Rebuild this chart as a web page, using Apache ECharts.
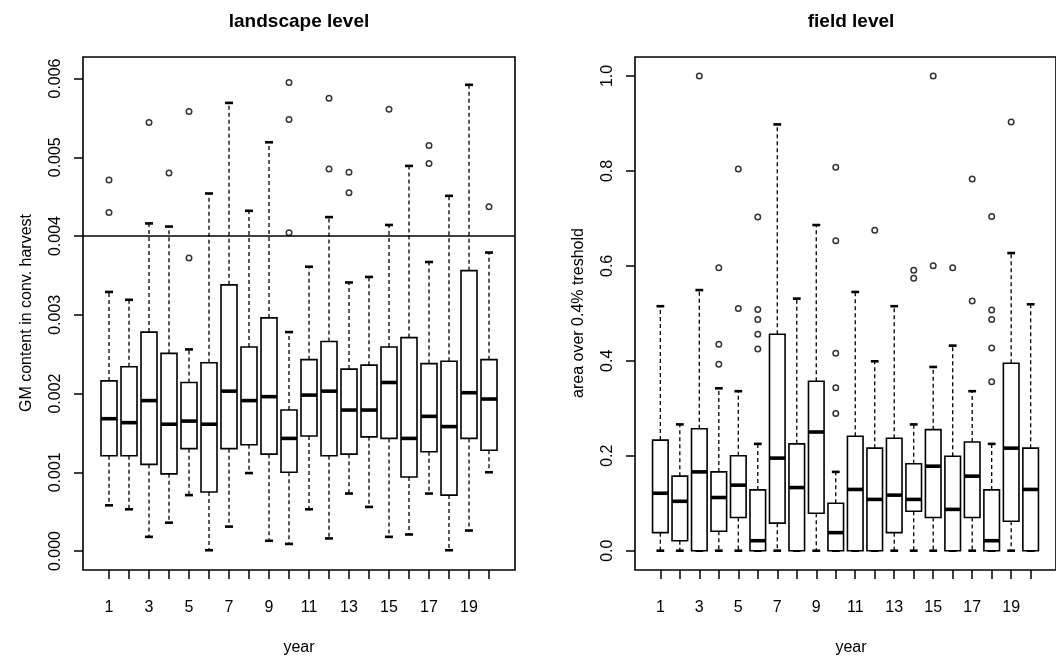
<!DOCTYPE html>
<html>
<head>
<meta charset="utf-8">
<script src="https://cdn.jsdelivr.net/npm/echarts@6/dist/echarts.min.js"></script>
<style>html,body{margin:0;padding:0;background:#fff}#c{width:1056px;height:662px}</style>
</head>
<body>
<div id="c"></div>
<script>
// ---- data ----
const years = [1,2,3,4,5,6,7,8,9,10,11,12,13,14,15,16,17,18,19,20];
const xTickLabels = [1,3,5,7,9,11,13,15,17,19];
const landTicks = [0, 0.001, 0.002, 0.003, 0.004, 0.005, 0.006];
const fieldTicks = [0, 0.2, 0.4, 0.6, 0.8, 1.0];
const landThreshold = 0.004;

const landMin = [0.00058,0.00053,0.00018,0.00036,0.00071,0.00001,0.00031,0.00099,0.00013,0.00009,0.00053,0.00016,0.00073,0.00056,0.00018,0.00021,0.00073,0.00001,0.00026,0.00100];
const landQ1  = [0.00121,0.00121,0.00110,0.00098,0.00130,0.00075,0.00130,0.00135,0.00123,0.00100,0.00146,0.00121,0.00123,0.00145,0.00143,0.00094,0.00126,0.00071,0.00143,0.00128];
const landMed = [0.00168,0.00163,0.00191,0.00161,0.00165,0.00161,0.00203,0.00191,0.00196,0.00143,0.00198,0.00203,0.00179,0.00179,0.00214,0.00143,0.00171,0.00158,0.00201,0.00193];
const landQ3  = [0.00216,0.00234,0.00278,0.00251,0.00214,0.00239,0.00338,0.00259,0.00296,0.00179,0.00243,0.00266,0.00231,0.00236,0.00259,0.00271,0.00238,0.00241,0.00356,0.00243];
const landMax = [0.00329,0.00319,0.00416,0.00412,0.00256,0.00454,0.00569,0.00432,0.00519,0.00278,0.00361,0.00424,0.00341,0.00348,0.00414,0.00489,0.00367,0.00451,0.00592,0.00379];
const landOut = [[0.00471,0.00430],[],[0.00544],[0.00480],[0.00558,0.00372],[],[],[],[],[0.00595,0.00548,0.00404],[],[0.00575,0.00485],[0.00481,0.00455],[],[0.00561],[],[0.00515,0.00492],[],[],[0.00437]];

const fieldMin = [0,0,0,0,0,0,0,0,0,0,0,0,0,0,0,0,0,0,0,0];
const fieldQ1  = [0.038,0.021,0,0.041,0.070,0,0.058,0,0.079,0,0,0,0.038,0.083,0.070,0,0.070,0,0.062,0];
const fieldMed = [0.121,0.104,0.166,0.112,0.138,0.021,0.195,0.133,0.250,0.038,0.129,0.108,0.117,0.108,0.178,0.087,0.157,0.021,0.216,0.129];
const fieldQ3  = [0.233,0.157,0.257,0.166,0.200,0.128,0.456,0.225,0.357,0.100,0.241,0.216,0.237,0.183,0.255,0.199,0.229,0.128,0.395,0.216];
const fieldMax = [0.515,0.266,0.549,0.342,0.336,0.225,0.898,0.531,0.686,0.166,0.545,0.399,0.515,0.266,0.387,0.432,0.336,0.225,0.627,0.519];
const fieldOut = [[],[],[1.0],[0.596,0.435,0.393],[0.804,0.510],[0.703,0.508,0.487,0.456,0.425],[],[],[],[0.808,0.653,0.416,0.343,0.289],[],[0.675],[],[0.591,0.574],[1.0,0.600],[0.596],[0.783,0.526],[0.704,0.507,0.487,0.427,0.356],[0.903],[]];

// ---- chart ----
const FONT = 'Liberation Sans, Arial, Helvetica, sans-serif';
const chart = echarts.init(document.getElementById('c'), null, {renderer: 'canvas'});

function boxData(mn, q1, md, q3, mx) {
  return years.map((y, i) => [y, mn[i], q1[i], md[i], q3[i], mx[i]]);
}
function outData(out) {
  const r = [];
  out.forEach((arr, i) => arr.forEach(v => r.push([years[i], v])));
  return r;
}
function renderBox(params, api) {
  const x = api.value(0);
  const mn = api.value(1), q1 = api.value(2), md = api.value(3), q3 = api.value(4), mx = api.value(5);
  const p = (dx, v) => api.coord([x + dx, v]);
  const dashed = {stroke: '#000', lineWidth: 1.3, lineDash: [4, 3], fill: null};
  const solid = (w) => ({stroke: '#000', lineWidth: w, fill: null});
  const ln = (a, b, style) => ({type: 'line', shape: {x1: a[0], y1: a[1], x2: b[0], y2: b[1]}, style: style});
  const a = p(-0.4, q3), b = p(0.4, q1);
  return {
    type: 'group',
    children: [
      ln(p(0, q3), p(0, mx), dashed),
      ln(p(0, q1), p(0, mn), dashed),
      ln(p(-0.2, mx), p(0.2, mx), solid(2.6)),
      ln(p(-0.2, mn), p(0.2, mn), solid(2.6)),
      {type: 'rect', shape: {x: a[0], y: a[1], width: b[0] - a[0], height: b[1] - a[1]},
       style: {fill: '#fff', stroke: '#000', lineWidth: 1.6}},
      ln(p(-0.4, md), p(0.4, md), solid(3.6))
    ]
  };
}
function xAxisCfg(gi) {
  return {
    type: 'value', gridIndex: gi, min: -0.3, max: 21.3, position: 'bottom',
    axisLine: {show: false, onZero: false},
    splitLine: {show: false},
    axisTick: {show: true, inside: false, customValues: years, length: 9, lineStyle: {color: '#000', width: 1.5}},
    axisLabel: {show: true, customValues: xTickLabels, margin: 30, color: '#000', fontSize: 16, fontFamily: FONT}
  };
}
function yAxisCfg(gi, mn, mx, ticks, dec) {
  return {
    type: 'value', gridIndex: gi, min: mn, max: mx, position: 'left',
    axisLine: {show: false, onZero: false},
    splitLine: {show: false},
    axisTick: {show: true, inside: false, customValues: ticks, length: 9, lineStyle: {color: '#000', width: 1.5}},
    axisLabel: {show: true, customValues: ticks, rotate: 90, margin: 19, color: '#000', fontSize: 16, fontFamily: FONT,
      formatter: v => Number(v).toFixed(dec)}
  };
}
const outStyle = {color: 'rgba(0,0,0,0)', borderColor: '#000', borderWidth: 1.5};

chart.setOption({
  animation: false,
  backgroundColor: '#fff',
  grid: [
    {left: 83, top: 57, width: 432, height: 513, show: true, borderColor: '#000', borderWidth: 1.6, backgroundColor: 'transparent'},
    {left: 635, top: 57, width: 432, height: 513, show: true, borderColor: '#000', borderWidth: 1.6, backgroundColor: 'transparent'}
  ],
  xAxis: [xAxisCfg(0), xAxisCfg(1)],
  yAxis: [
    yAxisCfg(0, -0.000241, 0.006273, landTicks, 3),
    yAxisCfg(1, -0.0407, 1.0400, fieldTicks, 1)
  ],
  series: [
    {type: 'custom', xAxisIndex: 0, yAxisIndex: 0, renderItem: renderBox,
     data: boxData(landMin, landQ1, landMed, landQ3, landMax), encode: {x: 0, y: [1,2,3,4,5]}},
    {type: 'scatter', xAxisIndex: 0, yAxisIndex: 0, symbol: 'circle', symbolSize: 5.5,
     itemStyle: outStyle, data: outData(landOut),
     markLine: {silent: true, precision: 6, symbol: ['none','none'], label: {show: false}, emphasis: {disabled: true},
       lineStyle: {color: '#000', type: 'solid', width: 1.5}, data: [{yAxis: landThreshold}]}},
    {type: 'custom', xAxisIndex: 1, yAxisIndex: 1, renderItem: renderBox,
     data: boxData(fieldMin, fieldQ1, fieldMed, fieldQ3, fieldMax), encode: {x: 0, y: [1,2,3,4,5]}},
    {type: 'scatter', xAxisIndex: 1, yAxisIndex: 1, symbol: 'circle', symbolSize: 5.5,
     itemStyle: outStyle, data: outData(fieldOut)}
  ],
  graphic: [
    {type: 'text', x: 299, y: 22, style: {text: 'landscape level', font: 'bold 19px ' + FONT, fill: '#000', textAlign: 'center', textVerticalAlign: 'middle'}},
    {type: 'text', x: 851, y: 22, style: {text: 'field level', font: 'bold 19px ' + FONT, fill: '#000', textAlign: 'center', textVerticalAlign: 'middle'}},
    {type: 'text', x: 299, y: 648, style: {text: 'year', font: '16px ' + FONT, fill: '#000', textAlign: 'center', textVerticalAlign: 'middle'}},
    {type: 'text', x: 851, y: 648, style: {text: 'year', font: '16px ' + FONT, fill: '#000', textAlign: 'center', textVerticalAlign: 'middle'}},
    {type: 'text', x: 27, y: 313, rotation: Math.PI / 2, style: {text: 'GM content in conv. harvest', font: '16px ' + FONT, fill: '#000', textAlign: 'center', textVerticalAlign: 'middle'}},
    {type: 'text', x: 579, y: 313, rotation: Math.PI / 2, style: {text: 'area over 0.4% treshold', font: '16px ' + FONT, fill: '#000', textAlign: 'center', textVerticalAlign: 'middle'}}
  ]
});
</script>
</body>
</html>
